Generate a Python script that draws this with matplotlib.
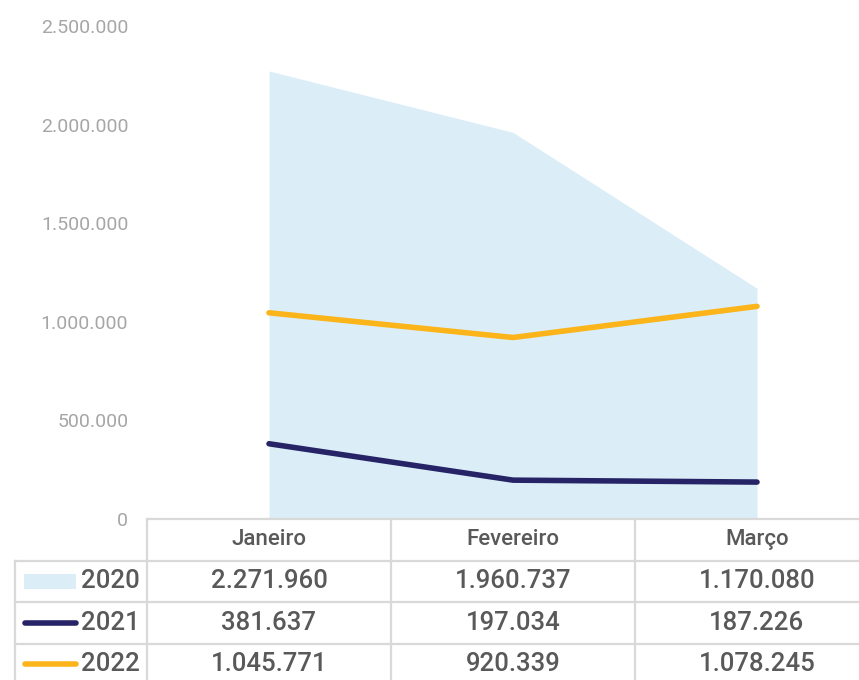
import matplotlib.pyplot as plt
from matplotlib.lines import Line2D
from matplotlib.patches import Rectangle
from matplotlib.transforms import blended_transform_factory
from matplotlib.ticker import FuncFormatter

plt.rcParams['font.family'] = ['Roboto', 'DejaVu Sans']

months = ['Janeiro', 'Fevereiro', 'Março']
years = ['2020', '2021', '2022']
v2020 = [2271960, 1960737, 1170080]
v2021 = [381637, 197034, 187226]
v2022 = [1045771, 920339, 1078245]

c_area = '#dbeef8'
c_2021 = '#262466'
c_2022 = '#fbb41a'
c_grid = '#d9d9d9'
c_text = '#595959'


def fmt(v, pos=None):
    return f'{int(v):,}'.replace(',', '.')


fig = plt.figure(figsize=(8.59, 6.8), dpi=100)
ax = fig.add_axes([147 / 859, (680 - 519) / 680, 732 / 859, 493 / 680])
x = list(range(len(months)))

ax.fill_between(x, 0, v2020, color=c_area, linewidth=0)
ax.plot(x, v2021, color=c_2021, linewidth=4, solid_capstyle='round')
ax.plot(x, v2022, color=c_2022, linewidth=4, solid_capstyle='round')

ax.set_xlim(-0.5, 2.5)
ax.set_ylim(0, 2500000)
ax.set_yticks(range(0, 2500001, 500000))
ax.yaxis.set_major_formatter(FuncFormatter(fmt))
ax.tick_params(axis='y', length=0, pad=13.5, labelsize=14, labelcolor='#a6a6a6')
ax.set_xticks([])
for s in ax.spines.values():
    s.set_visible(False)

# data table below the plot
tr = blended_transform_factory(ax.transData, ax.transAxes)
row_h = 41.5 / 493
left = -1.04
right = 2.6
n_rows = len(years) + 1
bottom = -n_rows * row_h

# horizontal lines
ax.add_line(Line2D([-0.5, right], [0, 0], transform=tr, color=c_grid, lw=1.6, clip_on=False))
for r in range(1, n_rows):
    ax.add_line(Line2D([left, right], [-r * row_h] * 2, transform=tr, color=c_grid, lw=1.6, clip_on=False))
# vertical lines
ax.add_line(Line2D([left, left], [-row_h, bottom], transform=tr, color=c_grid, lw=1.6, clip_on=False))
for b in [-0.5, 0.5, 1.5]:
    ax.add_line(Line2D([b, b], [0, bottom], transform=tr, color=c_grid, lw=1.6, clip_on=False))

# header
for i, m in enumerate(months):
    ax.text(i, -0.5 * row_h, m, transform=tr, ha='center', va='center',
            fontsize=16, fontweight='medium', color=c_text)

# rows
rows = [v2020, v2021, v2022]
for r, (yr, vals) in enumerate(zip(years, rows), start=1):
    yc = -(r + 0.5) * row_h
    for i, v in enumerate(vals):
        ax.text(i, yc, fmt(v), transform=tr, ha='center', va='center',
                fontsize=18.5, fontweight='medium', color=c_text)
    ax.text(-0.77, yc, yr, transform=tr, ha='left', va='center',
            fontsize=18.5, fontweight='medium', color=c_text)
    if r == 1:
        ax.add_patch(Rectangle((-1.004, yc - 0.015), 0.213, 0.03, transform=tr,
                               color=c_area, lw=0, clip_on=False))
    else:
        col = c_2021 if r == 2 else c_2022
        ax.add_line(Line2D([-1.0, -0.79], [yc, yc], transform=tr, color=col,
                           lw=4, solid_capstyle='round', clip_on=False))

fig.savefig('out.png', dpi=100)
